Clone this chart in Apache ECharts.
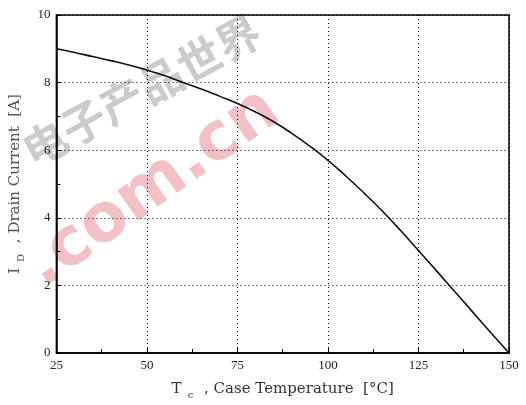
<!DOCTYPE html>
<html>
<head>
<meta charset="utf-8">
<script src="https://cdn.jsdelivr.net/npm/echarts@6/dist/echarts.min.js"></script>
<style>
html,body{margin:0;padding:0;background:#fff;}
#chart{width:526px;height:405px;}
</style>
</head>
<body>
<div id="chart"></div>
<script>
// Case temperature (°C)
var caseTemp = [25,30,35,40,45,50,55,60,65,70,75,80,85,90,95,100,105,110,115,120,125,130,135,140,145,150];
// Drain current (A)
var drainCurrent = [9.00,8.89,8.77,8.65,8.52,8.37,8.20,8.00,7.81,7.60,7.38,7.13,6.84,6.50,6.12,5.70,5.23,4.73,4.20,3.63,3.03,2.43,1.82,1.21,0.60,0.00];
var xTicks = [25,50,75,100,125,150];
var yTicks = [0,2,4,6,8,10];

var data = caseTemp.map(function(t,i){return [t, drainCurrent[i]];});
var chart = echarts.init(document.getElementById('chart'), null, {renderer:'canvas'});
var labelFont = 'Liberation Serif';
var nameFont = 'DejaVu Serif';
var dotted = {color:'#000', width:1, type:[1,3]};
chart.setOption({
  animation:false,
  backgroundColor:'#fff',
  graphic:[
    {type:'text', left:15, top:8, rotation:0.5, z:-10, silent:true,
     style:{text:'电子产品世界', font:'bold 44px "Noto Sans CJK SC"', fill:'rgba(160,160,160,0.55)'}},
    {type:'text', left:14, top:76, rotation:0.62, z:-10, silent:true,
     style:{text:'.com.cn', font:'bold 67px "DejaVu Sans"', fill:'rgba(232,140,150,0.55)'}}
  ],
  grid:{left:56, right:17, top:15, bottom:51, show:true, borderColor:'#000', borderWidth:1.5, backgroundColor:'transparent'},
  xAxis:{
    type:'value', min:25, max:150, interval:25,
    name:'{m|T}{sub|c}{m| , Case Temperature  [°C]}',
    nameLocation:'middle', nameGap:25,
    nameTextStyle:{rich:{
      m:{fontFamily:nameFont, fontSize:15, color:'#333'},
      sub:{fontFamily:nameFont, fontSize:10, color:'#333', padding:[12,6,0,6]}
    }},
    axisLine:{show:true, lineStyle:{color:'#000', width:1.5}},
    axisTick:{show:true, inside:true, length:5, lineStyle:{color:'#000'}},
    minorTick:{show:true, splitNumber:2, length:4, lineStyle:{color:'#000'}},
    axisLabel:{fontFamily:labelFont, fontSize:13, color:'#222', margin:6},
    splitLine:{show:true, lineStyle:dotted}
  },
  yAxis:{
    type:'value', min:0, max:10, interval:2,
    name:'{m|I}{sub|D}{m| , Drain Current  [A]}',
    nameLocation:'middle', nameGap:22,
    nameTextStyle:{rich:{
      m:{fontFamily:nameFont, fontSize:15, color:'#555'},
      sub:{fontFamily:nameFont, fontSize:10, color:'#555', padding:[12,6,0,6]}
    }},
    axisLine:{show:true, lineStyle:{color:'#000', width:1.5}},
    axisTick:{show:true, inside:true, length:5, lineStyle:{color:'#000'}},
    minorTick:{show:true, splitNumber:2, length:4, lineStyle:{color:'#000'}},
    axisLabel:{fontFamily:labelFont, fontSize:13, color:'#222', margin:6},
    splitLine:{show:true, lineStyle:dotted}
  },
  series:[{
    type:'line', data:data, smooth:true, showSymbol:false, z:5,
    lineStyle:{color:'#111', width:1.6}
  }]
});
</script>
</body>
</html>
